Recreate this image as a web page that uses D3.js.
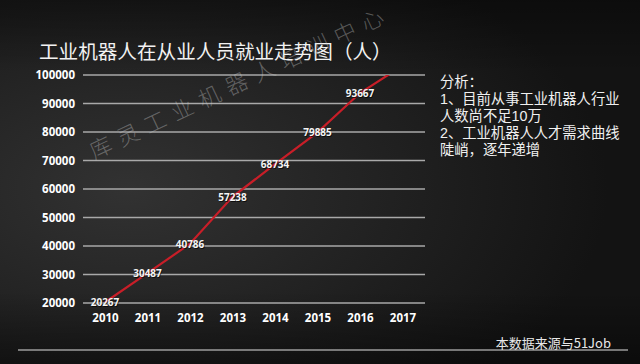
<!DOCTYPE html>
<html><head><meta charset="utf-8">
<script src="https://cdn.jsdelivr.net/npm/d3@7"></script>
<style>
html,body{margin:0;padding:0;background:#151515;}
svg{display:block;}
</style></head>
<body>
<svg id="chart" width="640" height="364"></svg>
<script>
const years = ["2010","2011","2012","2013","2014","2015","2016","2017"];
const employees = [20267, 30487, 40786, 57238, 68734, 79885, 93667, 103250];
const yTicks = [20000,30000,40000,50000,60000,70000,80000,90000,100000];
const title = "工业机器人在从业人员就业走势图（人）";
const notes = ["分析：","1、目前从事工业机器人行业","人数尚不足10万","2、工业机器人人才需求曲线","陡峭，逐年递增"];
const source = "本数据来源与51Job";
const watermark = "库灵工业机器人培训中心";

const svg = d3.select("#chart");
const W = 640, H = 364;
const defs = svg.append("defs");
const rg = defs.append("radialGradient").attr("id","bg")
  .attr("cx","0.2").attr("cy","0.52").attr("r","0.75");
rg.append("stop").attr("offset","0").attr("stop-color","#323232");
rg.append("stop").attr("offset","0.55").attr("stop-color","#212121");
rg.append("stop").attr("offset","1").attr("stop-color","#131313");
svg.append("rect").attr("width",W).attr("height",H).attr("fill","url(#bg)");
const lg = defs.append("linearGradient").attr("id","shade").attr("x1",0).attr("y1",0).attr("x2",0).attr("y2",1);
lg.append("stop").attr("offset","0").attr("stop-color","#000").attr("stop-opacity",0.35);
lg.append("stop").attr("offset","0.2").attr("stop-color","#000").attr("stop-opacity",0);
lg.append("stop").attr("offset","0.8").attr("stop-color","#000").attr("stop-opacity",0);
lg.append("stop").attr("offset","1").attr("stop-color","#000").attr("stop-opacity",0.4);
svg.append("rect").attr("width",W).attr("height",H).attr("fill","url(#shade)");

const x = d3.scalePoint().domain(years).range([105, 402.5]);
const y = d3.scaleLinear().domain([20000,100000]).range([303, 75]);
const gridX0 = 83, gridX1 = 425;

// Title
svg.append("text").attr("x",39).attr("y",50).attr("dominant-baseline","central")
  .attr("fill","#f2f2f2").attr("font-family","'Noto Sans CJK SC'").attr("font-weight",400)
  .attr("font-size",19.6).text(title);

// Gridlines
svg.append("g").selectAll("line").data(yTicks).join("line")
  .attr("x1",gridX0).attr("x2",gridX1).attr("y1",d=>y(d)).attr("y2",d=>y(d))
  .attr("stroke","#a9a9a9").attr("stroke-width",1.6);

// Y axis labels
const yAxis = svg.append("g").attr("transform",`translate(${gridX0},0)`)
  .call(d3.axisLeft(y).tickValues(yTicks).tickSize(0).tickPadding(8).tickFormat(d3.format("d")));
yAxis.select(".domain").remove();
yAxis.selectAll("text").attr("fill","#ffffff").attr("font-family","'Open Sans'")
  .attr("font-weight",700).attr("font-size",11.5);

// X axis labels
const xAxis = svg.append("g").attr("transform","translate(0,312)")
  .call(d3.axisBottom(x).tickSize(0).tickPadding(2));
xAxis.select(".domain").remove();
xAxis.selectAll("text").attr("fill","#ffffff").attr("font-family","'Open Sans'")
  .attr("font-weight",700).attr("font-size",11.5);

// Watermark: characters placed along a slanted baseline
const wmAngle = -25.2, wmStep = 30, wmX0 = 100, wmY0 = 146;
const rad = wmAngle * Math.PI / 180;
svg.append("g").selectAll("text").data(Array.from(watermark)).join("text")
  .attr("transform",(d,i)=>`translate(${wmX0 + i*wmStep*Math.cos(rad)},${wmY0 + i*wmStep*Math.sin(rad)}) rotate(${wmAngle})`)
  .attr("text-anchor","middle").attr("dominant-baseline","central")
  .attr("fill","#c8c8c8").attr("fill-opacity",0.38)
  .attr("font-family","'Noto Sans CJK SC'").attr("font-weight",300)
  .attr("font-size",22).text(d=>d);

// Line (clipped to plot area)
defs.append("clipPath").attr("id","plotclip").append("rect")
  .attr("x",gridX0).attr("y",y(100000)).attr("width",gridX1-gridX0).attr("height",y(20000)-y(100000)+5);
const line = d3.line().x((d,i)=>x(years[i])).y(d=>y(d));
svg.append("path").datum(employees).attr("d",line).attr("clip-path","url(#plotclip)")
  .attr("fill","none").attr("stroke","#c81e28").attr("stroke-width",2.2);

// Data labels
const shown = employees.map((v,i)=>({v,i})).filter(d=>d.v<=100000);
const lbl = svg.append("g").attr("font-family","'Open Sans'").attr("font-weight",700)
  .attr("font-size",10).attr("text-anchor","middle");
lbl.selectAll("text.sh").data(shown).join("text").attr("class","sh")
  .attr("x",d=>x(years[d.i])+0.8).attr("y",d=>y(d.v)+0.8).attr("dominant-baseline","central")
  .attr("fill","#000").attr("fill-opacity",0.7).text(d=>d.v);
lbl.selectAll("text.fg").data(shown).join("text").attr("class","fg")
  .attr("x",d=>x(years[d.i])).attr("y",d=>y(d.v)).attr("dominant-baseline","central")
  .attr("fill","#f4f4f4").text(d=>d.v);

// Notes
svg.append("g").selectAll("text").data(notes).join("text")
  .attr("x",440).attr("y",(d,i)=>82+i*17).attr("dominant-baseline","central")
  .attr("fill","#f0f0f0").attr("font-family","'Liberation Sans','Noto Sans CJK SC'").attr("font-size",14.3)
  .text(d=>d);

// Source + rule
svg.append("text").attr("x",611).attr("y",342).attr("dominant-baseline","central")
  .attr("text-anchor","end").attr("fill","#e8e8e8").attr("font-family","'Noto Sans CJK SC'")
  .attr("font-size",13).text(source);
svg.append("line").attr("x1",18).attr("x2",628).attr("y1",350).attr("y2",350)
  .attr("stroke","#e0e0e0").attr("stroke-width",1.2);
</script>
</body></html>
